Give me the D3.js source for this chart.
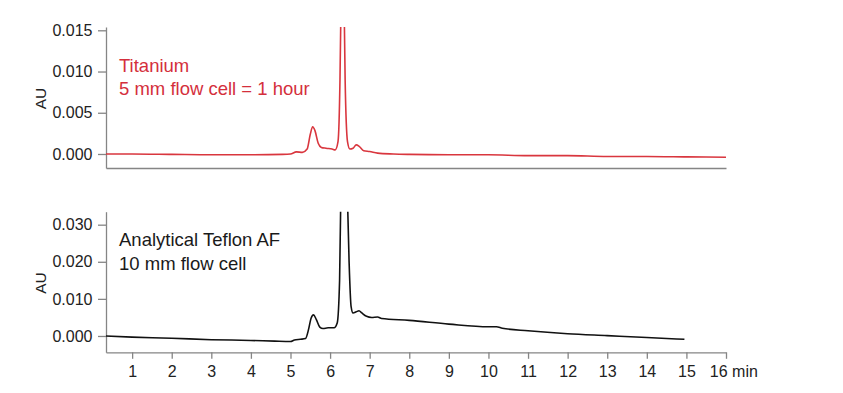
<!DOCTYPE html>
<html>
<head>
<meta charset="utf-8">
<script src="https://cdn.jsdelivr.net/npm/d3@7"></script>
<style>
  body { margin: 0; background: #fff; }
  svg { display: block; font-family: "Liberation Sans", Arial, sans-serif; }
  .axis path, .axis line { stroke: #858585; stroke-width: 1.3; }
  .axis text { fill: #222; font-size: 16px; font-family: "Liberation Sans", Arial, sans-serif; }
</style>
</head>
<body>
<svg id="chart" width="843" height="393"></svg>
<script>
// chromatogram traces (time in min, absorbance in AU)
const tiTime = [0.34, 1, 2, 3, 4, 4.8, 5.0, 5.15, 5.3, 5.42, 5.5, 5.56, 5.62, 5.7, 5.78, 5.9, 6.05, 6.13,
                6.2, 6.25, 6.28, 6.31, 6.35, 6.38, 6.44, 6.5, 6.58, 6.66, 6.74, 6.85, 7.0, 7.2, 7.6,
                8, 9, 10, 11, 12, 13, 14, 15, 16];
const tiAU   = [0.0000, 0.0000, -0.00005, -0.0001, -0.0001, -0.00005, 0.0000, 0.00025, 0.0002, 0.0006, 0.0024, 0.0033, 0.0028, 0.0013, 0.0008, 0.0007, 0.0006, 0.0005,
                0.0015, 0.009, 0.020, 0.030, 0.020, 0.009, 0.0015, 0.0006, 0.0007, 0.0011, 0.0009, 0.0004, 0.0003, 0.0001, 0.0000,
                -0.00005, -0.0001, -0.0001, -0.0002, -0.0002, -0.0003, -0.0003, -0.00035, -0.0004];

const afTime = [0.34, 1, 2, 3, 4, 4.6, 5.0, 5.1, 5.25, 5.38, 5.45, 5.52, 5.58, 5.65, 5.74, 5.82, 5.95, 6.1,
                6.18, 6.24, 6.28, 6.33, 6.42, 6.48, 6.53, 6.58, 6.66, 6.73, 6.8, 6.92, 7.05, 7.2, 7.3,
                8, 9, 10, 10.2, 10.35, 11, 12, 13, 14, 14.95];
const afAU   = [0.0000, -0.0003, -0.0006, -0.0010, -0.0012, -0.0014, -0.0015, -0.0011, -0.0009, -0.0007, 0.0015, 0.0048, 0.0057, 0.0045, 0.0024, 0.0020, 0.0022, 0.0022,
                0.0035, 0.015, 0.045, 0.060, 0.045, 0.020, 0.008, 0.0062, 0.0065, 0.0068, 0.0062, 0.0053, 0.0050, 0.0051, 0.0047,
                0.0042, 0.0032, 0.0025, 0.0025, 0.0021, 0.0014, 0.0006, 0.0001, -0.0004, -0.0009];

const xTicks = [1, 2, 3, 4, 5, 6, 7, 8, 9, 10, 11, 12, 13, 14, 15, 16];
const tiTicks = [0, 0.005, 0.010, 0.015];
const afTicks = [0, 0.010, 0.020, 0.030];
const tiLabel = ["Titanium", "5 mm flow cell = 1 hour"];
const afLabel = ["Analytical Teflon AF", "10 mm flow cell"];

const svg = d3.select("#chart");
const left = 106, right = 726;

const x = d3.scaleLinear().domain([0.34, 16]).range([left, right]);

const panels = [
  { time: tiTime, au: tiAU, ticks: tiTicks, label: tiLabel, color: "#d9363e", txt: "#d42f3c",
    dom: [-0.0017, 0.0154], top: 27, bottom: 168, xticks: false, lab: [71.5, 95] },
  { time: afTime, au: afAU, ticks: afTicks, label: afLabel, color: "#111", txt: "#1a1a1a",
    dom: [-0.0044, 0.0335], top: 211.7, bottom: 352.3, xticks: true, lab: [246, 269.5] }
];

panels.forEach(function(p, i) {
  const y = d3.scaleLinear().domain(p.dom).range([p.bottom, p.top]);
  const g = svg.append("g").attr("class", "panel");

  g.append("clipPath").attr("id", "clip" + i)
    .append("rect").attr("x", left).attr("y", p.top)
    .attr("width", right - left).attr("height", p.bottom - p.top);

  // x axis (top panel: bare line)
  const xa = d3.axisBottom(x).tickSize(6.5).tickSizeOuter(0).tickPadding(5)
    .tickFormat(function(d) { return d === 16 ? "16 min" : d3.format("d")(d); });
  xa.tickValues(p.xticks ? xTicks : []);
  const xg = g.append("g").attr("class", "axis x")
    .attr("transform", "translate(0," + p.bottom + ")")
    .call(xa);
  xg.selectAll(".tick text").attr("y", null).attr("dy", null)
    .attr("transform", "translate(0,24.3)");
  xg.selectAll(".tick text").filter(function(d) { return d === 16; })
    .attr("text-anchor", "start").attr("x", -16.7);

  // y axis
  g.append("g").attr("class", "axis y")
    .attr("transform", "translate(" + left + ",0)")
    .call(d3.axisLeft(y).tickValues(p.ticks).tickSize(8).tickSizeOuter(0).tickPadding(5.5)
      .tickFormat(d3.format(".3f")));

  g.append("text")
    .attr("transform", "translate(45.5," + ((p.top + p.bottom) / 2 + 1) + ") rotate(-90)")
    .attr("text-anchor", "middle")
    .style("font-size", "15.5px").style("fill", "#222")
    .text("AU");

  const pts = p.time.map(function(t, k) { return [t, p.au[k]]; });
  g.append("path")
    .datum(pts)
    .attr("clip-path", "url(#clip" + i + ")")
    .attr("fill", "none")
    .attr("stroke", p.color)
    .attr("stroke-width", 1.6)
    .attr("stroke-linejoin", "round")
    .attr("d", d3.line()
      .x(function(d) { return x(d[0]); })
      .y(function(d) { return y(d[1]); })
      .curve(d3.curveMonotoneX));

  g.selectAll("text.note").data(p.label).enter()
    .append("text").attr("class", "note")
    .attr("x", 119)
    .attr("y", function(d, k) { return p.lab[k]; })
    .style("font-size", "18.5px")
    .style("fill", p.txt)
    .text(function(d) { return d; });
});
</script>
</body>
</html>
